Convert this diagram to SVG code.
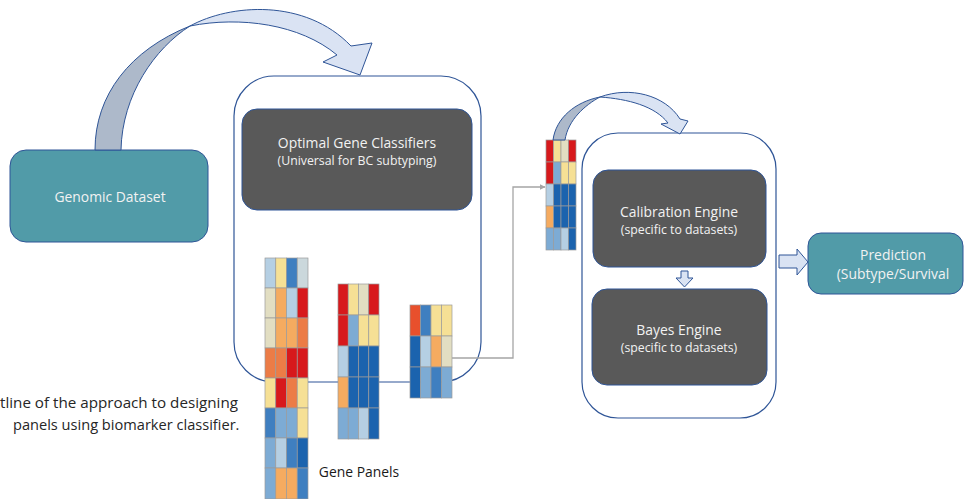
<svg xmlns="http://www.w3.org/2000/svg" width="966" height="499" viewBox="0 0 966 499">
  <style>
    .frame { fill: #ffffff; stroke: #2f5597; stroke-width: 1.2; }
    .teal { fill: #519ba8; stroke: #2f5597; stroke-width: 1; }
    .dark { fill: #595959; stroke: #2f5597; stroke-width: 1; }
    .t { font-family: "Open Sans", "Noto Sans", "DejaVu Sans", sans-serif; text-anchor: middle; }
    .lt { fill: #f2f2f2; }
    .title { font-size: 13.9px; }
    .sub { font-size: 12.3px; }
    .blk { fill: #1a1a1a; font-size: 13.9px; }
    .cap { font-family: "Open Sans", "Noto Sans", "DejaVu Sans", sans-serif; fill: #262626; }
    .band-back { fill: #adb9ca; stroke: #2f5597; stroke-width: 1; stroke-linejoin: round; }
    .band-front { fill: #dae3f3; stroke: #2f5597; stroke-width: 1; stroke-linejoin: round; }
    .hm rect { stroke: #9a9a9a; stroke-width: 0.7; }
    .R { fill: #d7191c; } .O { fill: #ec7c46; } .o { fill: #f5ab60; } .Y { fill: #f6e095; }
    .P { fill: #e2dec2; } .L { fill: #b5cfe3; } .M { fill: #7dabd4; } .B { fill: #3f7fc0; }
    .D { fill: #1b63ae; } .G { fill: #cbd8dc; } .E { fill: #e8502c; }
    .elbow { fill: none; stroke: #a5a5a5; stroke-width: 1.3; }
  </style>
  <defs>
    <marker id="tri" viewBox="0 0 10 10" refX="9" refY="5" markerWidth="6" markerHeight="6" orient="auto" markerUnits="userSpaceOnUse">
      <path d="M0,0 L10,5 L0,10 z" fill="#a5a5a5"/>
    </marker>
  </defs>

  <!-- input data -->
  <g id="genomic-dataset">
    <rect class="teal" x="10" y="150" width="198" height="92" rx="16"/>
    <text class="t lt title" x="110" y="202">Genomic Dataset</text>
  </g>

  <!-- classifier stage container -->
  <g id="classifier-stage">
    <rect class="frame" x="234" y="76" width="247" height="306" rx="40"/>
  </g>

  <g id="optimal-gene-classifiers">
    <rect class="dark" x="242" y="109" width="230" height="101" rx="15"/>
    <text class="t lt title" x="357" y="148">Optimal Gene Classifiers</text>
    <text class="t lt sub" x="357" y="165">(Universal for BC subtyping)</text>
  </g>

  <!-- gene panel heatmaps -->
  <g id="panel-large" class="hm">
    <rect class="L" x="265" y="258" width="10.75" height="30"/><rect class="Y" x="275.75" y="258" width="10.75" height="30"/><rect class="B" x="286.5" y="258" width="10.75" height="30"/><rect class="G" x="297.25" y="258" width="10.75" height="30"/>
    <rect class="P" x="265" y="288" width="10.75" height="30"/><rect class="o" x="275.75" y="288" width="10.75" height="30"/><rect class="L" x="286.5" y="288" width="10.75" height="30"/><rect class="R" x="297.25" y="288" width="10.75" height="30"/>
    <rect class="P" x="265" y="318" width="10.75" height="30"/><rect class="o" x="275.75" y="318" width="10.75" height="30"/><rect class="o" x="286.5" y="318" width="10.75" height="30"/><rect class="O" x="297.25" y="318" width="10.75" height="30"/>
    <rect class="O" x="265" y="348" width="10.75" height="30"/><rect class="O" x="275.75" y="348" width="10.75" height="30"/><rect class="R" x="286.5" y="348" width="10.75" height="30"/><rect class="R" x="297.25" y="348" width="10.75" height="30"/>
    <rect class="Y" x="265" y="378" width="10.75" height="30"/><rect class="R" x="275.75" y="378" width="10.75" height="30"/><rect class="O" x="286.5" y="378" width="10.75" height="30"/><rect class="Y" x="297.25" y="378" width="10.75" height="30"/>
    <rect class="B" x="265" y="408" width="10.75" height="30"/><rect class="M" x="275.75" y="408" width="10.75" height="30"/><rect class="M" x="286.5" y="408" width="10.75" height="30"/><rect class="Y" x="297.25" y="408" width="10.75" height="30"/>
    <rect class="M" x="265" y="438" width="10.75" height="30"/><rect class="L" x="275.75" y="438" width="10.75" height="30"/><rect class="B" x="286.5" y="438" width="10.75" height="30"/><rect class="D" x="297.25" y="438" width="10.75" height="30"/>
    <rect class="M" x="265" y="468" width="10.75" height="31"/><rect class="o" x="275.75" y="468" width="10.75" height="31"/><rect class="o" x="286.5" y="468" width="10.75" height="31"/><rect class="B" x="297.25" y="468" width="10.75" height="31"/>
  </g>

  <g id="panel-medium" class="hm">
    <rect class="R" x="338" y="284" width="10.25" height="31"/><rect class="Y" x="348.25" y="284" width="10.25" height="31"/><rect class="P" x="358.5" y="284" width="10.25" height="31"/><rect class="R" x="368.75" y="284" width="10.25" height="31"/>
    <rect class="R" x="338" y="315" width="10.25" height="31"/><rect class="M" x="348.25" y="315" width="10.25" height="31"/><rect class="Y" x="358.5" y="315" width="10.25" height="31"/><rect class="Y" x="368.75" y="315" width="10.25" height="31"/>
    <rect class="L" x="338" y="346" width="10.25" height="31"/><rect class="D" x="348.25" y="346" width="10.25" height="31"/><rect class="D" x="358.5" y="346" width="10.25" height="31"/><rect class="D" x="368.75" y="346" width="10.25" height="31"/>
    <rect class="o" x="338" y="377" width="10.25" height="31"/><rect class="D" x="348.25" y="377" width="10.25" height="31"/><rect class="D" x="358.5" y="377" width="10.25" height="31"/><rect class="D" x="368.75" y="377" width="10.25" height="31"/>
    <rect class="M" x="338" y="408" width="10.25" height="31"/><rect class="M" x="348.25" y="408" width="10.25" height="31"/><rect class="L" x="358.5" y="408" width="10.25" height="31"/><rect class="D" x="368.75" y="408" width="10.25" height="31"/>
  </g>

  <g id="panel-small" class="hm">
    <rect class="E" x="410" y="305" width="10.5" height="31"/><rect class="B" x="420.5" y="305" width="10.5" height="31"/><rect class="Y" x="431" y="305" width="10.5" height="31"/><rect class="Y" x="441.5" y="305" width="10.5" height="31"/>
    <rect class="D" x="410" y="336" width="10.5" height="31"/><rect class="L" x="420.5" y="336" width="10.5" height="31"/><rect class="o" x="431" y="336" width="10.5" height="31"/><rect class="P" x="441.5" y="336" width="10.5" height="31"/>
    <rect class="D" x="410" y="367" width="10.5" height="31"/><rect class="M" x="420.5" y="367" width="10.5" height="31"/><rect class="B" x="431" y="367" width="10.5" height="31"/><rect class="M" x="441.5" y="367" width="10.5" height="31"/>
  </g>

  <g id="gene-panels-label">
    <text class="t blk" x="359" y="477">Gene Panels</text>
  </g>

  <!-- selected panel fed into the engines -->
  <g id="panel-selected" class="hm">
    <rect class="R" x="546" y="140" width="7.5" height="22"/><rect class="Y" x="553.5" y="140" width="7.5" height="22"/><rect class="P" x="561" y="140" width="7.5" height="22"/><rect class="R" x="568.5" y="140" width="7.5" height="22"/>
    <rect class="R" x="546" y="162" width="7.5" height="22"/><rect class="M" x="553.5" y="162" width="7.5" height="22"/><rect class="Y" x="561" y="162" width="7.5" height="22"/><rect class="Y" x="568.5" y="162" width="7.5" height="22"/>
    <rect class="L" x="546" y="184" width="7.5" height="22"/><rect class="D" x="553.5" y="184" width="7.5" height="22"/><rect class="D" x="561" y="184" width="7.5" height="22"/><rect class="D" x="568.5" y="184" width="7.5" height="22"/>
    <rect class="o" x="546" y="206" width="7.5" height="22"/><rect class="D" x="553.5" y="206" width="7.5" height="22"/><rect class="D" x="561" y="206" width="7.5" height="22"/><rect class="D" x="568.5" y="206" width="7.5" height="22"/>
    <rect class="M" x="546" y="228" width="7.5" height="22"/><rect class="M" x="553.5" y="228" width="7.5" height="22"/><rect class="L" x="561" y="228" width="7.5" height="22"/><rect class="D" x="568.5" y="228" width="7.5" height="22"/>
  </g>

  <!-- engine stage container -->
  <g id="engine-stage">
    <rect class="frame" x="582" y="133" width="194" height="285" rx="36"/>
  </g>

  <g id="calibration-engine">
    <rect class="dark" x="593" y="170" width="173" height="97" rx="15"/>
    <text class="t lt title" x="679" y="217">Calibration Engine</text>
    <text class="t lt sub" x="679" y="234">(specific to datasets)</text>
  </g>

  <g id="bayes-engine">
    <rect class="dark" x="592" y="289" width="175" height="96" rx="15"/>
    <text class="t lt title" x="679" y="335">Bayes Engine</text>
    <text class="t lt sub" x="679" y="352">(specific to datasets)</text>
  </g>

  <g id="prediction">
    <rect class="teal" x="808" y="233" width="155" height="61" rx="13"/>
    <text class="t lt title" x="893" y="260">Prediction</text>
    <text class="t lt title" x="893" y="279">(Subtype/Survival</text>
  </g>

  <g id="caption">
    <text class="cap" x="0" y="408" font-size="15.2">tline of the approach to designing</text>
    <text class="cap" x="13" y="430" font-size="14.6">panels using biomarker classifier.</text>
  </g>

  <!-- connectors -->
  <g id="connectors">
    <!-- dataset to classifiers: curved band arrow -->
    <path class="band-back" d="M95,150 C95,95 130,50 190,26 C155,48 122,95 121,150 Z"/>
    <path class="band-front" d="M190,26 C230,4 305,-2 351,46 L372,43 L360,75 L323,62 L337,55 C300,24 240,16 190,26 Z"/>
    <!-- selected panel into the engines: curved band arrow -->
    <path class="band-back" d="M553,140 C556,118 575,102 600,97 C585,105 568,120 565,140 Z"/>
    <path class="band-front" d="M600,97 C630,86 665,95 680,119 L688,121 L680,134 L661,124 L668,123 C655,106 628,99 600,97 Z"/>
    <!-- small panel to selected panel -->
    <polyline class="elbow" points="452,358 513,358 513,187 545,187" marker-end="url(#tri)"/>
    <!-- calibration to bayes -->
    <path class="band-front" d="M681,271 L688,271 L688,278 L693,278 L684.5,287 L676,278 L681,278 Z"/>
    <!-- engines to prediction -->
    <path class="band-front" d="M779,255 L797,255 L797,249 L808,262 L797,275 L797,268 L779,268 Z"/>
  </g>
</svg>
